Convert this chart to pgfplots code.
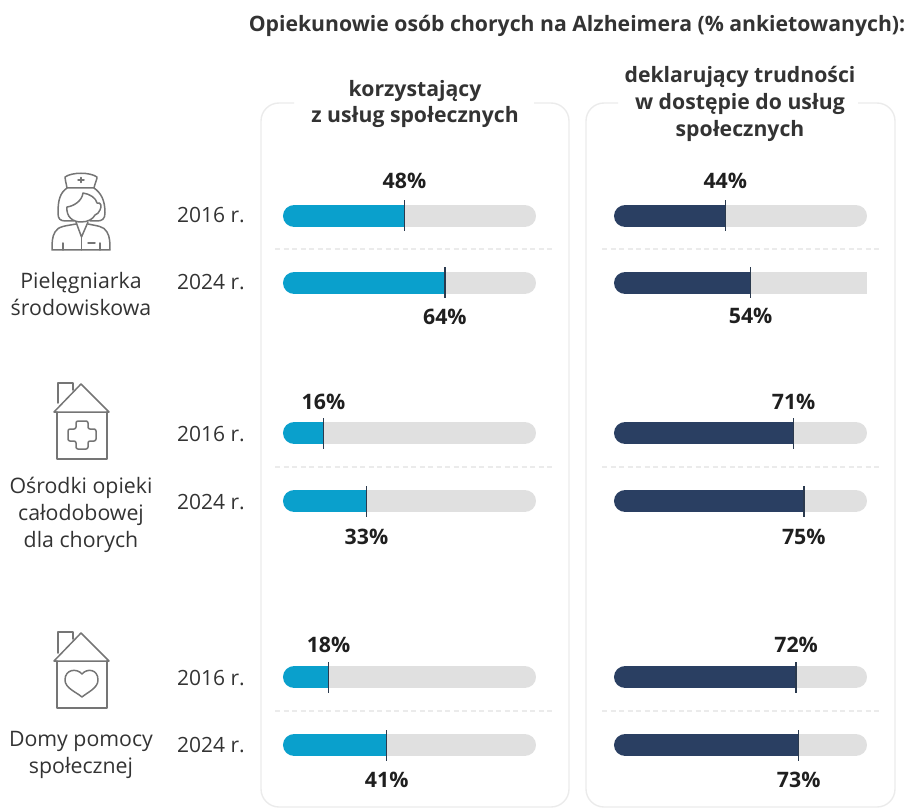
\documentclass[border=0pt]{standalone}
\usepackage{fontspec}
\setmainfont{Open Sans}
\usepackage{pgfplots}
\pgfplotsset{compat=1.18}
\usepackage{pgfplotstable}
\definecolor{cblue}{HTML}{0AA0CC}
\definecolor{cnavy}{HTML}{2A3F62}
\definecolor{ctrack}{HTML}{E0E0E0}
\definecolor{cborder}{HTML}{EBEBEB}
\definecolor{ctick}{HTML}{2B3A4E}
\definecolor{ctext}{HTML}{333333}
\definecolor{cicon}{HTML}{757575}
\pgfplotstableread{
val y laby
48 216 189
64 283 324
16 433 409
33 501 544
18 677 652
41 745 787
}\leftdata
\pgfplotstableread{
val y laby
44 216 189
54 283 324
71 433 409
75 501 544
72 677 652
73 745 787
}\rightdata
\pgfplotsset{
  canvas/.style={width=910pt,height=810pt,scale only axis,y dir=reverse,
    ymin=0,ymax=810,hide axis,clip=false,anchor=south west,
    /pgf/number format/assume math mode=true},
  panel/.style={canvas,width=253pt,xmin=0,xmax=100},
}
\tikzset{
  head/.style={font=\fontsize{21.2}{26}\selectfont\bfseries,text=ctext,anchor=base},
  cat/.style={font=\fontsize{21.3}{26}\selectfont,text=ctext,anchor=base},
  year/.style={font=\fontsize{21}{26}\selectfont,text=ctext,anchor=base east,inner sep=0pt},
}
% track: round at the right end, its left end hidden under the value bar
\newcommand{\track}[1]{\addplot[ctrack,line width=22.8pt,line cap=round] coordinates {(10,#1)(95.5,#1)};}
% value bar: round start, square end
\newcommand{\valbar}[3]{%
  \addplot[#1,line width=22.8pt,line cap=round] coordinates {(4.5,#2)(9,#2)};
  \addplot[#1,line width=22.8pt,line cap=butt] coordinates {(4.5,#2)(#3,#2)};}
\newcommand{\ticksandlabels}[1]{%
  \addplot[draw=none,mark=none,forget plot,error bars/.cd,y dir=both,y fixed=15.5,error mark=none,
    error bar style={ctick,line width=1.5pt}] table[x=val,y=y] {#1};
  \addplot[draw=none,mark=none,point meta=x,
    nodes near coords={\pgfmathprintnumber{\pgfplotspointmeta}\%},
    every node near coord/.style={anchor=base,font=\fontsize{21.3}{26}\selectfont\bfseries,text=black!88}]
    table[x=val,y=laby] {#1};
}
\begin{document}
\begin{tikzpicture}
\begin{axis}[canvas,at={(0pt,0pt)},xmin=0,xmax=910]
% page frame
\path (0,0) rectangle (910,810);
% panels
\draw[cborder,line width=1.4pt,rounded corners=18pt] (294,103) -| (261,807) -| (569,103) -- (534,103);
\draw[cborder,line width=1.4pt,rounded corners=18pt] (618,103) -| (586,807) -| (895,103) -- (858,103);
% separators
\draw[cborder,line width=1.1pt,dash pattern=on 5pt off 3.5pt] (275,249) -- (555,249) (602,249) -- (881,249);
\draw[cborder,line width=1.1pt,dash pattern=on 5pt off 3.5pt] (275,467) -- (555,467) (602,467) -- (881,467);
\draw[cborder,line width=1.1pt,dash pattern=on 5pt off 3.5pt] (275,711) -- (555,711) (602,711) -- (881,711);
% texts
\node[head] at (577,32) {Opiekunowie osób chorych na Alzheimera (\% ankietowanych):};
\node[head] at (415,97) {korzystający};
\node[head] at (415,123) {z usług społecznych};
\node[head] at (740,83) {deklarujący trudności};
\node[head] at (740,110) {w dostępie do usług};
\node[head] at (740,136.5) {społecznych};
\node[cat] at (81,289) {Pielęgniarka};
\node[cat] at (81,316) {środowiskowa};
\node[cat] at (81,493) {Ośrodki opieki};
\node[cat] at (81,520) {całodobowej};
\node[cat] at (81,547) {dla chorych};
\node[cat] at (81,746) {Domy pomocy};
\node[cat] at (81,773) {społecznej};
\node[year] at (245,223) {2016 r.};
\node[year] at (245,290) {2024 r.};
\node[year] at (245,441.5) {2016 r.};
\node[year] at (245,509) {2024 r.};
\node[year] at (245,685) {2016 r.};
\node[year] at (245,752) {2024 r.};
% nurse icon
\begin{scope}[cicon,line width=1.5pt,line join=round,line cap=round]
\draw (67,188) .. controls (66,182) and (65,180) .. (65,177) .. controls (72,172) and (90,172) .. (97,177) .. controls (97,180) and (95,183) .. (94,188) -- cycle;
\draw (78,180) -- (84,180) (81,177.5) -- (81,182.5);
\draw (67,188) .. controls (60,193) and (58,200) .. (58,213) .. controls (58,219) and (60,221) .. (66,221) -- (74,221);
\draw (94,188) .. controls (101,193) and (105,200) .. (105,213) .. controls (105,219) and (102,221) .. (97,221) -- (90,221);
\draw (67,207) .. controls (74,206) and (82,201) .. (83,193) .. controls (90,194) and (96,198) .. (97,203) .. controls (101,202) and (102,206) .. (100,210) .. controls (99,213) and (97,214) .. (95,215) .. controls (93,219) and (88,222) .. (81,222) .. controls (73,222) and (66,217) .. (67,207);
\draw (76,222) -- (81.5,237) -- (88,222);
\draw (76,224) .. controls (66,226) and (58,226) .. (55,232) .. controls (52,237) and (52,243) .. (52,250) -- (110,250) .. controls (110,243) and (110,237) .. (107,232) .. controls (104,226) and (97,226) .. (88,224);
\draw (81.5,237) -- (81.5,250);
\draw (63,250) -- (63,243) (100,250) -- (100,243) (88,243) -- (95,243);
% house 1
\draw (54,412) -- (81,384) -- (109,412) -- cycle;
\draw (57,412) -- (57,459) -- (107,459) -- (107,412);
\draw (58,403) -- (58,383) -- (73,383) -- (73,390);
\draw[rounded corners=2pt] (76,421) -- (88,421) -- (88,429) -- (96,429) -- (96,441) -- (88,441) -- (88,449) -- (76,449) -- (76,441) -- (68,441) -- (68,429) -- (76,429) -- cycle;
% house 2
\draw (54,661) -- (81,633) -- (109,661) -- cycle;
\draw (57,661) -- (57,708) -- (107,708) -- (107,661);
\draw (58,653) -- (58,632) -- (73,632) -- (73,639);
\draw (82,674) .. controls (77,668) and (65,669) .. (65,680) .. controls (65,688) and (76,692) .. (82,697) .. controls (88,692) and (98,688) .. (98,680) .. controls (98,669) and (87,668) .. (82,674) -- cycle;
\end{scope}
\end{axis}
% left panel
\begin{axis}[panel,at={(283pt,0pt)}]
\track{216}\track{283}\track{433}\track{501}\track{677}\track{745}
\valbar{cblue}{216}{48}
\valbar{cblue}{283}{64}
\valbar{cblue}{433}{16}
\valbar{cblue}{501}{33}
\valbar{cblue}{677}{18}
\valbar{cblue}{745}{41}
\ticksandlabels{\leftdata}
\end{axis}
% right panel
\begin{axis}[panel,at={(614pt,0pt)}]
\track{216}\track{283}\track{433}\track{501}\track{677}\track{745}
\addplot[ctrack,line width=22.8pt,line cap=butt] coordinates {(90,283)(100,283)};
\valbar{cnavy}{216}{44}
\valbar{cnavy}{283}{54}
\valbar{cnavy}{433}{71}
\valbar{cnavy}{501}{75}
\valbar{cnavy}{677}{72}
\valbar{cnavy}{745}{73}
\ticksandlabels{\rightdata}
\end{axis}
\end{tikzpicture}
\end{document}
